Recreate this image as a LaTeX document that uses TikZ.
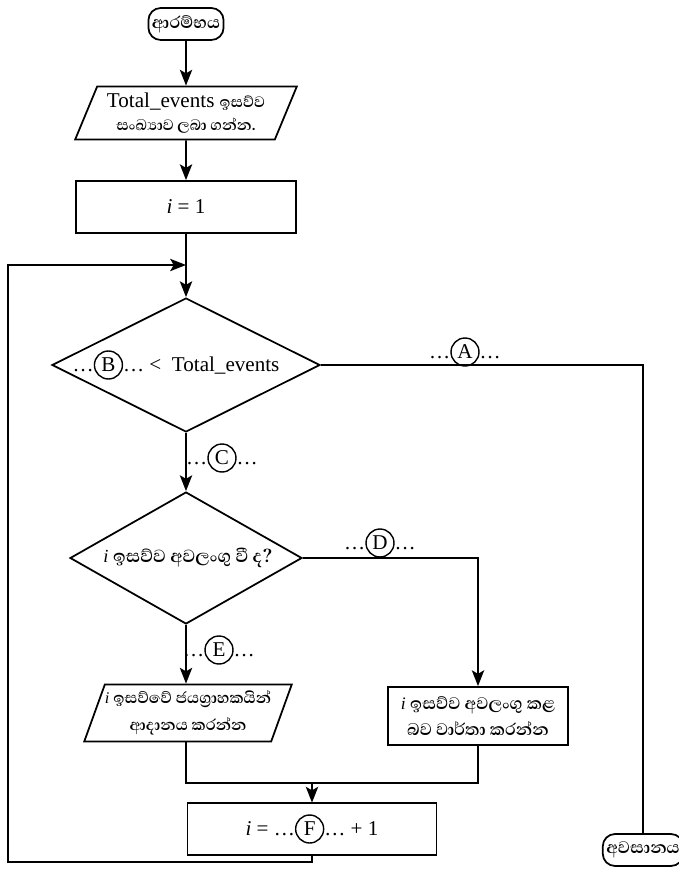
\documentclass[tikz,border=0pt]{standalone}
\usepackage{fontspec}
\setmainfont{Liberation Serif}
\newfontfamily\sinfont[Script=Sinhala, Scale=1.22]{Abhaya Libre}
\usetikzlibrary{shapes, arrows.meta, positioning, calc}

\newcommand{\snh}[1]{{\sinfont\bfseries #1}}
\newcommand{\ltr}[1]{\tikz[baseline=(c.base)]\node[draw, circle, line width=0.8pt,
    inner sep=0pt, minimum size=0.56cm, text width=, align=center] (c) {#1};}

\begin{document}
\begin{tikzpicture}[x=0.02cm, y=-0.02cm, line width=1pt,
    font=\fontsize{12}{14}\selectfont,
    term/.style  = {draw, rounded corners=7pt, minimum width=1.48cm,
        minimum height=0.64cm, inner sep=2pt, font=\fontsize{10}{12}\selectfont},
    io/.style    = {draw, trapezium, trapezium left angle=68,
        trapezium right angle=112, trapezium stretches=true, align=center,
        minimum width=4.44cm, minimum height=1.06cm},
    proc/.style  = {draw, rectangle, align=center, minimum height=1.04cm},
    cond/.style  = {draw, diamond, inner sep=0pt},
    smalltxt/.style = {font=\fontsize{10.5}{16}\selectfont},
    line/.style  = {-{Stealth[length=9pt, width=7pt, inset=2pt]}}
    ]
    \useasboundingbox (0,0) rectangle (679,875);

    % main column
    \node[term] (start) at (186,24) {\snh{ආරම්භය}};
    \node[io] (getn) at (186,113)
    {Total\_events \snh{\small ඉසව්ව}\\[-1pt]\snh{\small සංඛ්‍යාව ලබා ගන්න.}};
    \node[proc, minimum width=4.4cm] (init) at (186,207) {\textit{i} = 1};

    \node[cond, minimum width=5.36cm, minimum height=2.68cm] (test) at (186,365) {};
    \node (testtxt) at (176,365) {\dots\ltr{B}\dots{} <\ \ Total\_events};

    \node[cond, minimum width=4.64cm, minimum height=2.64cm] (cancel) at (186,558) {};
    \node[smalltxt] (canceltxt) at (188,558) {\textit{i} \snh{ඉසව්ව අවලංගු වී ද?}};

    \node[io, minimum width=4.0cm, minimum height=1.14cm, inner xsep=0pt, inner ysep=2pt,
        font=\fontsize{9.3}{15}\selectfont] (winners) at (188,713)
    {\textit{i} \snh{ඉසව්වේ ජයග්‍රාහකයින්}\\\snh{ආදානය කරන්න}};
    \node[proc, minimum width=3.6cm, minimum height=1.16cm,
        font=\fontsize{10}{15}\selectfont] (report) at (478,716)
    {\textit{i} \snh{ඉසව්ව අවලංගු කළ}\\\snh{බව වාර්තා කරන්න}};

    \node[proc, minimum width=4.98cm] (next) at (312,829)
    {\textit{i} = \dots\ltr{F}\dots\ + 1};
    \node[term, minimum width=1.34cm] (stop) at (643,850) {\snh{අවසානය}};

    % connectors
    \draw[line] (start) -- (getn);
    \draw[line] (getn) -- (init);
    \draw[line] (init) -- (test);
    \draw[line] (test) -- (cancel);
    \draw[line] (cancel) -- (cancel |- winners.north);
    \draw[line] (cancel.east) -| (report.north);

    \coordinate (aturn) at (643,365);
    \draw (test.east) -- (aturn) -- (stop.north);

    \coordinate (join) at (312,783);
    \draw (cancel |- winners.south) |- (join);
    \draw (report.south) |- (join);
    \draw[line] (join) -- (next.north);

    \coordinate (loopbot) at (8,862);
    \coordinate (looptop) at (8,265);
    \draw[line] (next.south) |- (loopbot) -- (looptop) -- (looptop -| test.north);

    % gap labels
    \node (labA) at (465,352) {\dots\ltr{A}\dots};
    \node (labC) at (222,458) {\dots\ltr{C}\dots};
    \node (labD) at (380,543) {\dots\ltr{D}\dots};
    \node (labE) at (219,650) {\dots\ltr{E}\dots};
\end{tikzpicture}
\end{document}
